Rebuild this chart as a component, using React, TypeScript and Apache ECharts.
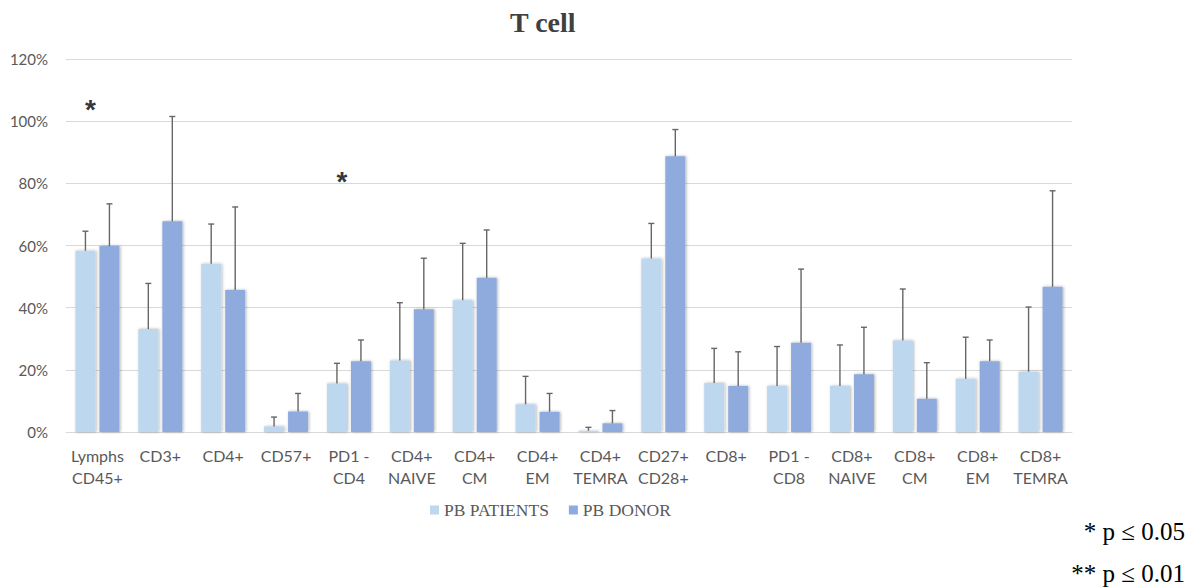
import React, { useEffect, useRef } from "react";
import * as echarts from "echarts";

const categories = [
  "Lymphs\nCD45+", "CD3+", "CD4+", "CD57+", "PD1 -\nCD4", "CD4+\nNAIVE", "CD4+\nCM", "CD4+\nEM",
  "CD4+\nTEMRA", "CD27+\nCD28+", "CD8+", "PD1 -\nCD8", "CD8+\nNAIVE", "CD8+\nCM", "CD8+\nEM", "CD8+\nTEMRA",
];
const patientsMean = [58.3, 33.1, 54.1, 1.8, 15.6, 23.0, 42.4, 8.9, 0.4, 55.8, 15.8, 14.8, 14.8, 29.4, 17.1, 19.4];
const patientsErrTop = [64.6, 47.8, 66.9, 4.8, 22.1, 41.6, 60.7, 17.9, 1.5, 67.1, 26.9, 27.5, 28.0, 46.0, 30.5, 40.2];
const donorMean = [59.8, 67.8, 45.7, 6.6, 22.8, 39.5, 49.6, 6.5, 2.8, 88.7, 14.8, 28.7, 18.6, 10.7, 22.8, 46.7];
const donorErrTop = [73.4, 101.5, 72.4, 12.4, 29.6, 55.9, 65.0, 12.4, 6.9, 97.3, 25.8, 52.4, 33.7, 22.3, 29.6, 77.6];
const significanceMarks = [[0, 106], [4, 83]];
const seriesNames = ["PB PATIENTS", "PB DONOR"];
const yTicks = { min: 0, max: 120, interval: 20 };

export default function App() {
  const ref = useRef<HTMLDivElement>(null);
  useEffect(() => {
    if (!ref.current) return;
    const chart = echarts.init(ref.current, undefined, { renderer: "svg" });
    const errSeries = (name: string, means: number[], tops: number[], offset: number) => ({
      type: "custom",
      name,
      silent: true,
      z: 5,
      data: means.map((m, i) => [i, tops[i], m]),
      encode: { x: 0, y: [1, 2] },
      renderItem: (params: any, api: any) => {
        const i = api.value(0);
        const top = api.coord([i, api.value(1)]);
        const bot = api.coord([i, api.value(2)]);
        const x = top[0] + offset;
        const style = { stroke: "#666666", lineWidth: 1.4 };
        return {
          type: "group",
          children: [
            { type: "line", shape: { x1: x, y1: bot[1], x2: x, y2: top[1] }, style },
            { type: "line", shape: { x1: x - 3, y1: top[1], x2: x + 3, y2: top[1] }, style },
          ],
        };
      },
    });
    const barShadow = { shadowColor: "rgba(0,0,0,0.3)", shadowBlur: 3, shadowOffsetX: 1, shadowOffsetY: 0 };
    chart.setOption({
      animation: false,
      graphic: [
        {
          type: "text",
          left: 510,
          top: 8,
          style: { text: "T cell", font: "bold 28px 'Liberation Serif', serif", fill: "#404040" },
        },
        {
          type: "text",
          right: 17,
          top: 519,
          style: { text: "* p ≤ 0.05", font: "25px 'Liberation Serif', serif", fill: "#000" },
        },
        {
          type: "text",
          right: 17,
          top: 561,
          style: { text: "** p ≤ 0.01", font: "25px 'Liberation Serif', serif", fill: "#000" },
        },
      ],
      grid: { left: 66, right: 130, top: 59, bottom: 156 },
      legend: {
        data: seriesNames,
        left: 425,
        top: 496,
        icon: "rect",
        itemWidth: 9,
        itemHeight: 9,
        itemGap: 20,
        textStyle: { fontFamily: "'Liberation Serif', serif", fontSize: 17.5, color: "#595959" },
      },
      xAxis: {
        type: "category",
        data: categories,
        axisLine: { lineStyle: { color: "#d9d9d9" } },
        axisTick: { show: false },
        axisLabel: { color: "#595959", fontFamily: "Lato, sans-serif", fontSize: 16, lineHeight: 22, margin: 12, interval: 0 },
      },
      yAxis: {
        type: "value",
        min: yTicks.min,
        max: yTicks.max,
        interval: yTicks.interval,
        axisLabel: { formatter: "{value}%", color: "#595959", fontFamily: "Lato, sans-serif", fontSize: 15, margin: 18 },
        splitLine: { lineStyle: { color: "#d9d9d9" } },
        axisLine: { show: false },
        axisTick: { show: false },
      },
      series: [
        {
          type: "bar",
          name: seriesNames[0],
          data: patientsMean,
          barWidth: 20,
          barGap: "20%",
          itemStyle: { color: "#BDD7EE", ...barShadow },
        },
        {
          type: "bar",
          name: seriesNames[1],
          data: donorMean,
          barWidth: 20,
          itemStyle: { color: "#8FAADC", ...barShadow },
        },
        errSeries("errP", patientsMean, patientsErrTop, -12),
        errSeries("errD", donorMean, donorErrTop, 12),
        {
          type: "scatter",
          name: "sig",
          data: significanceMarks,
          symbolSize: 1,
          itemStyle: { color: "transparent" },
          silent: true,
          label: {
            show: true,
            position: "inside",
            offset: [-7, 7],
            formatter: "*",
            fontSize: 28,
            fontWeight: "bold",
            color: "#000",
            fontFamily: "'Liberation Sans', sans-serif",
          },
        },
      ],
    });
    return () => chart.dispose();
  }, []);
  return <div ref={ref} style={{ position: "absolute", left: 0, top: 0, width: 1202, height: 588 }} />;
}
